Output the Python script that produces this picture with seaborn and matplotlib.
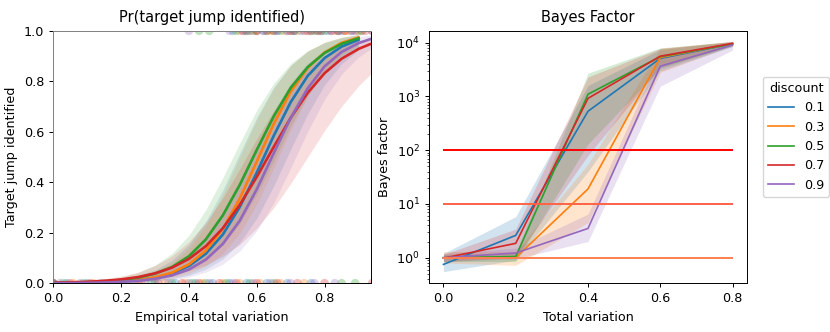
import numpy as np
import pandas as pd
import seaborn as sns
import matplotlib.pyplot as plt
from matplotlib.ticker import MultipleLocator

discounts = ['0.1', '0.3', '0.5', '0.7', '0.9']
nan = np.nan

# left panel: fitted curves + bands
tv_grid = [0.0, 0.05, 0.1, 0.15, 0.2, 0.25, 0.3, 0.35, 0.4, 0.45, 0.5,
           0.55, 0.6, 0.65, 0.7, 0.75, 0.8, 0.85, 0.9, 0.94]

pr_01 = [0.0007, 0.0012, 0.0021, 0.0038, 0.0069, 0.0124, 0.0221, 0.0392, 0.0685, 0.117,
         0.193, 0.302, 0.438, 0.584, 0.717, 0.821, 0.892, 0.937, 0.964, nan]
pr_01_lo = [0.0003, 0.0005, 0.0009, 0.0017, 0.0031, 0.0055, 0.0099, 0.0178, 0.0317, 0.056,
            0.096, 0.161, 0.257, 0.385, 0.530, 0.670, 0.786, 0.869, 0.923, nan]
pr_01_hi = [0.0016, 0.0029, 0.0052, 0.0094, 0.0168, 0.030, 0.053, 0.091, 0.153, 0.246,
            0.370, 0.515, 0.657, 0.776, 0.862, 0.918, 0.953, 0.973, 0.985, nan]

pr_03 = [0.0006, 0.0011, 0.0021, 0.0038, 0.0070, 0.0128, 0.0234, 0.0421, 0.075, 0.130,
         0.215, 0.336, 0.482, 0.631, 0.759, 0.853, 0.914, 0.952, 0.973, nan]
pr_03_lo = [0.0003, 0.0006, 0.0010, 0.0019, 0.0034, 0.0063, 0.0115, 0.021, 0.038, 0.068,
            0.118, 0.198, 0.312, 0.455, 0.606, 0.739, 0.839, 0.905, 0.946, nan]
pr_03_hi = [0.0012, 0.0022, 0.0041, 0.0075, 0.0138, 0.025, 0.045, 0.080, 0.138, 0.228,
            0.352, 0.500, 0.648, 0.772, 0.862, 0.920, 0.955, 0.975, 0.986, nan]

pr_05 = [0.0014, 0.0024, 0.0042, 0.0073, 0.0127, 0.0221, 0.0381, 0.0643, 0.107, 0.174,
         0.269, 0.390, 0.528, 0.661, 0.774, 0.856, 0.912, 0.948, 0.970, nan]
pr_05_lo = [0.0007, 0.0012, 0.0020, 0.0036, 0.0062, 0.0108, 0.0187, 0.032, 0.055, 0.092,
            0.151, 0.237, 0.352, 0.485, 0.623, 0.743, 0.835, 0.898, 0.939, nan]
pr_05_hi = [0.0027, 0.0047, 0.0082, 0.0142, 0.0246, 0.042, 0.072, 0.118, 0.190, 0.291,
            0.418, 0.555, 0.686, 0.792, 0.870, 0.921, 0.953, 0.973, 0.984, nan]

pr_07 = [0.0023, 0.0037, 0.0059, 0.0096, 0.0154, 0.0246, 0.0392, 0.0618, 0.0965, 0.147,
         0.218, 0.311, 0.421, 0.540, 0.655, 0.754, 0.832, 0.889, 0.928, 0.950]
pr_07_lo = [0.0017, 0.0026, 0.0040, 0.0061, 0.0092, 0.0141, 0.0213, 0.032, 0.049, 0.072,
            0.107, 0.154, 0.218, 0.299, 0.395, 0.500, 0.605, 0.701, 0.782, 0.834]
pr_07_hi = [0.0042, 0.0068, 0.0109, 0.0175, 0.028, 0.044, 0.070, 0.108, 0.164, 0.240,
            0.338, 0.453, 0.572, 0.683, 0.777, 0.849, 0.901, 0.936, 0.960, 0.972]

pr_09 = [0.0006, 0.0010, 0.0018, 0.0031, 0.0056, 0.0099, 0.0176, 0.031, 0.0545, 0.0936,
         0.156, 0.248, 0.372, 0.515, 0.655, 0.772, 0.859, 0.916, 0.951, 0.969]
pr_09_lo = [0.0002, 0.0004, 0.0008, 0.0014, 0.0025, 0.0044, 0.0079, 0.0141, 0.0249, 0.044,
            0.076, 0.128, 0.208, 0.319, 0.457, 0.601, 0.729, 0.828, 0.896, 0.932]
pr_09_hi = [0.0011, 0.0020, 0.0035, 0.0062, 0.0111, 0.0198, 0.035, 0.061, 0.104, 0.172,
            0.271, 0.399, 0.543, 0.681, 0.792, 0.872, 0.924, 0.956, 0.975, 0.984]

# raw outcomes (x of identified / missed runs)
hit_01 = [0.53, 0.57, 0.60, 0.62, 0.66, 0.69, 0.71, 0.73, 0.77, 0.79, 0.81, 0.85, 0.88, 0.91]
hit_03 = [0.55, 0.58, 0.60, 0.64, 0.68, 0.70, 0.72, 0.75, 0.79, 0.83, 0.86, 0.87, 0.908]
hit_05 = [0.43, 0.46, 0.54, 0.57, 0.59, 0.63, 0.65, 0.67, 0.71, 0.76, 0.78, 0.80, 0.84, 0.90]
hit_07 = [0.56, 0.60, 0.63, 0.65, 0.70, 0.74, 0.76, 0.78, 0.82, 0.84, 0.86, 0.89, 0.92, 0.94]
hit_09 = [0.40, 0.52, 0.56, 0.58, 0.62, 0.66, 0.69, 0.71, 0.75, 0.79, 0.82, 0.84, 0.88, 0.94]
miss_01 = [0.0, 0.04, 0.10, 0.17, 0.24, 0.30, 0.36, 0.42, 0.47, 0.52, 0.57, 0.63, 0.69, 0.76]
miss_03 = [0.0, 0.06, 0.12, 0.19, 0.26, 0.33, 0.39, 0.44, 0.50, 0.55, 0.61, 0.67, 0.74]
miss_05 = [0.0, 0.03, 0.09, 0.15, 0.22, 0.29, 0.35, 0.41, 0.45, 0.51, 0.58, 0.65, 0.85, 0.89]
miss_07 = [0.0, 0.05, 0.11, 0.18, 0.25, 0.31, 0.38, 0.43, 0.49, 0.54, 0.60, 0.66, 0.72, 0.80, 0.94]
miss_09 = [0.0, 0.02, 0.08, 0.14, 0.20, 0.27, 0.34, 0.40, 0.46, 0.53, 0.59, 0.64, 0.70, 0.77, 0.83]

# right panel: Bayes factor mean and CI
tv_levels = [0.0, 0.2, 0.4, 0.6, 0.8]
bf_01 = [0.75, 2.6, 530, 5100, 9500]
bf_03 = [1.0, 1.0, 19, 5300, 9600]
bf_05 = [1.0, 1.05, 1100, 5500, 9500]
bf_07 = [0.98, 1.85, 920, 5600, 9700]
bf_09 = [1.0, 1.22, 3.5, 3650, 9050]
bf_01_lo = [0.55, 0.9, 40, 3000, 8500]
bf_01_hi = [1.2, 5.8, 1600, 7500, 10500]
bf_03_lo = [0.8, 0.72, 4.5, 2800, 8800]
bf_03_hi = [1.3, 1.3, 55, 7800, 10500]
bf_05_lo = [0.85, 0.85, 130, 3300, 8600]
bf_05_hi = [1.15, 1.2, 2700, 8000, 10500]
bf_07_lo = [0.85, 1.0, 80, 3500, 8900]
bf_07_hi = [1.15, 3.4, 2300, 7800, 10600]
bf_09_lo = [0.85, 0.95, 2.0, 1550, 7300]
bf_09_hi = [1.2, 1.5, 6.5, 6000, 10200]

thresholds = [1, 10, 100]
threshold_colors = ['coral', 'tomato', 'red']

pr_mid = [pr_01, pr_03, pr_05, pr_07, pr_09]
pr_lo = [pr_01_lo, pr_03_lo, pr_05_lo, pr_07_lo, pr_09_lo]
pr_hi = [pr_01_hi, pr_03_hi, pr_05_hi, pr_07_hi, pr_09_hi]
hits = [hit_01, hit_03, hit_05, hit_07, hit_09]
misses = [miss_01, miss_03, miss_05, miss_07, miss_09]
bf_mid = [bf_01, bf_03, bf_05, bf_07, bf_09]
bf_lo = [bf_01_lo, bf_03_lo, bf_05_lo, bf_07_lo, bf_09_lo]
bf_hi = [bf_01_hi, bf_03_hi, bf_05_hi, bf_07_hi, bf_09_hi]

palette = dict(zip(discounts, sns.color_palette('tab10', 5)))

curves = pd.concat([pd.DataFrame({'tv': tv_grid, 'pr': m, 'lo': l, 'hi': h, 'discount': d})
                    for d, m, l, h in zip(discounts, pr_mid, pr_lo, pr_hi)])
points = pd.concat([pd.DataFrame({'tv': hx + mx, 'hit': [1] * len(hx) + [0] * len(mx), 'discount': d})
                    for d, hx, mx in zip(discounts, hits, misses)])
bayes = pd.concat([pd.DataFrame({'tv': tv_levels, 'bf': m, 'lo': l, 'hi': h, 'discount': d})
                   for d, m, l, h in zip(discounts, bf_mid, bf_lo, bf_hi)])

plt.rcParams.update({'font.size': 9.2, 'axes.titlesize': 10.5, 'axes.labelsize': 9.2,
                     'xtick.labelsize': 9.2, 'ytick.labelsize': 9.2, 'legend.fontsize': 9.2,
                     'legend.title_fontsize': 9.2, 'axes.linewidth': 0.7,
                     'xtick.major.width': 0.7, 'ytick.major.width': 0.7,
                     'xtick.major.size': 3, 'ytick.major.size': 3,
                     'ytick.minor.size': 1.7, 'ytick.minor.width': 0.5})

fig, (ax1, ax2) = plt.subplots(1, 2, figsize=(8.3, 3.32), dpi=100)
plt.subplots_adjust(left=0.064, right=0.9, top=0.9075, bottom=0.1467, wspace=0.182)

# left: Pr(target jump identified)
sns.scatterplot(data=points, x='tv', y='hit', hue='discount', hue_order=discounts, palette=palette,
                s=40, alpha=0.3, linewidth=0, legend=False, ax=ax1)
for d in discounts:
    sub = curves[(curves.discount == d) & curves.pr.notna()]
    ax1.fill_between(sub.tv, sub.lo, sub.hi, color=palette[d], alpha=0.15, linewidth=0)
sns.lineplot(data=curves.dropna(), x='tv', y='pr', hue='discount', hue_order=discounts,
             palette=palette, linewidth=1.9, legend=False, ax=ax1)
ax1.set_xlim(0, 0.937)
ax1.set_ylim(0, 1)
ax1.set_title('Pr(target jump identified)')
ax1.set_xlabel('Empirical total variation')
ax1.set_ylabel('Target jump identified')
ax1.spines['left'].set_color('0.5')
ax1.spines['top'].set_color('0.5')

# right: Bayes factor
for d in discounts:
    sub = bayes[bayes.discount == d]
    ax2.fill_between(sub.tv, sub.lo, sub.hi, color=palette[d], alpha=0.2, linewidth=0)
sns.lineplot(data=bayes, x='tv', y='bf', hue='discount', hue_order=discounts,
             palette=palette, linewidth=1.2, ax=ax2)
for t, c in zip(thresholds, threshold_colors):
    ax2.hlines(t, tv_levels[0], tv_levels[-1], color=c, linewidth=1.4)
ax2.set_yscale('log')
ax2.set_ylim(0.334, 16700)
ax2.xaxis.set_major_locator(MultipleLocator(0.2))
ax2.set_title('Bayes Factor')
ax2.set_xlabel('Total variation')
ax2.set_ylabel('Bayes factor')
ax2.legend(title='discount', loc='center left', bbox_to_anchor=(1.03, 0.58))

plt.savefig('out.png', dpi=100)
